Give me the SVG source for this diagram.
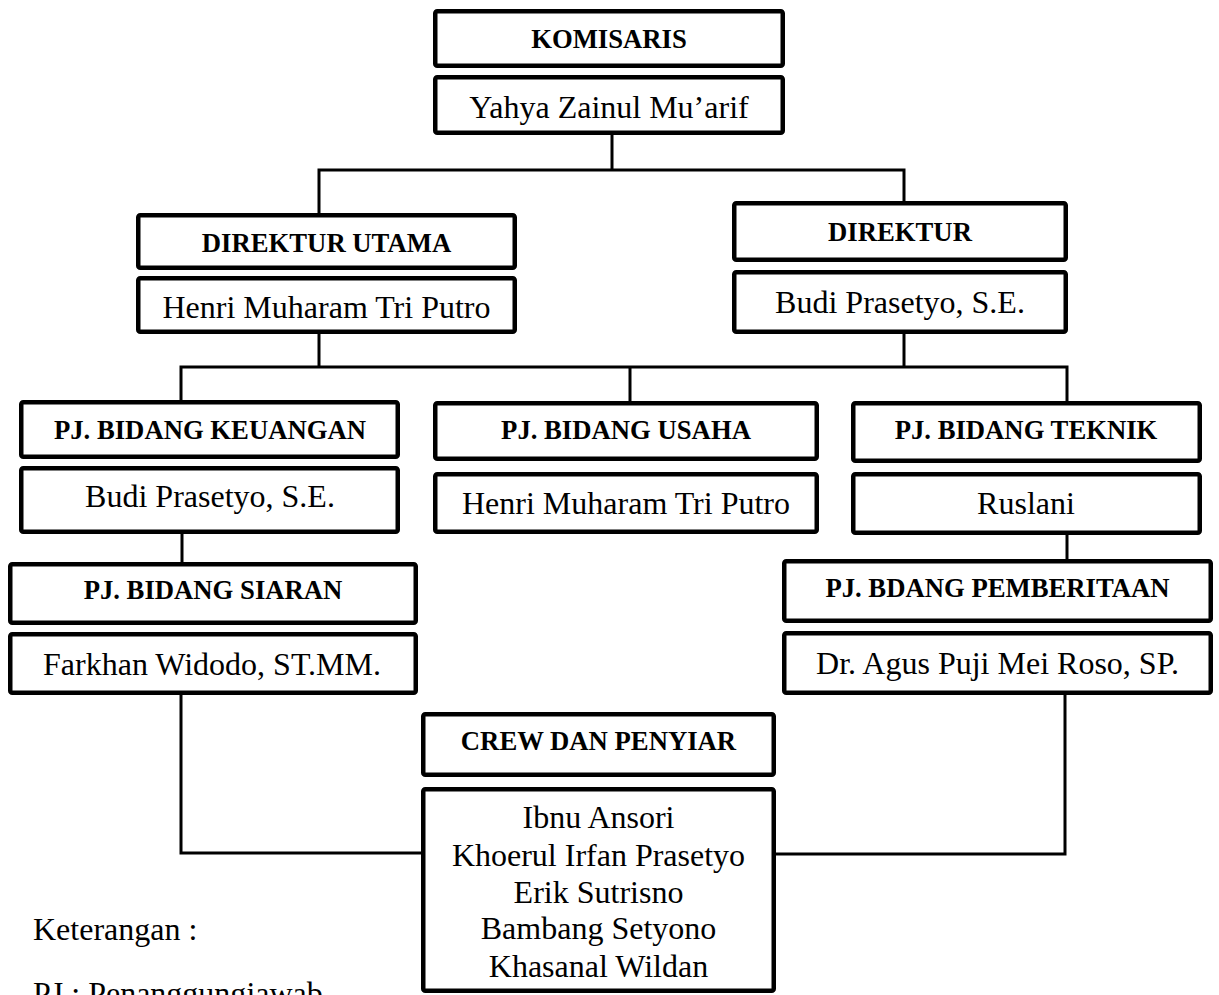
<svg xmlns="http://www.w3.org/2000/svg" width="1219" height="995" viewBox="0 0 1219 995">
<style>
.box{fill:#fff;stroke:#000;stroke-width:4.5;}
.t{font-family:"Liberation Serif","Times New Roman",serif;font-size:32px;fill:#000;text-anchor:middle;}
.b{font-family:"Liberation Serif","Times New Roman",serif;font-size:26.7px;font-weight:bold;fill:#000;text-anchor:middle;}
.l{font-family:"Liberation Serif","Times New Roman",serif;font-size:32px;fill:#000;}
.c{fill:none;stroke:#000;stroke-width:3;stroke-linejoin:miter;}
</style>
<rect width="1219" height="995" fill="#fff"/>
<g id="connectors">
<path class="c" d="M612 135 V170"/>
<path class="c" d="M319 213 V170 H904 V201"/>
<path class="c" d="M319 334 V367"/>
<path class="c" d="M904 334 V367"/>
<path class="c" d="M181 400 V367 H1067 V401"/>
<path class="c" d="M630 367 V401"/>
<path class="c" d="M182 534 V562"/>
<path class="c" d="M1067 535 V559"/>
<path class="c" d="M181 695 V853 H421"/>
<path class="c" d="M1065 695 V854 H776"/>
</g>
<g id="komisaris">
<rect class="box" x="435.25" y="11.25" width="347.5" height="54.5" rx="2"/>
<text class="b" x="609" y="48">KOMISARIS</text>
<rect class="box" x="435.25" y="77.25" width="347.5" height="55.5" rx="2"/>
<text class="t" x="609" y="118">Yahya Zainul Mu’arif</text>
</g>
<g id="direktur-utama">
<rect class="box" x="138.25" y="215.25" width="376.5" height="52.5" rx="2"/>
<text class="b" x="326.5" y="252">DIREKTUR UTAMA</text>
<rect class="box" x="138.25" y="278.25" width="376.5" height="53.5" rx="2"/>
<text class="t" x="326.5" y="318">Henri Muharam Tri Putro</text>
</g>
<g id="direktur">
<rect class="box" x="734.25" y="203.25" width="331.5" height="56.5" rx="2"/>
<text class="b" x="900" y="241">DIREKTUR</text>
<rect class="box" x="734.25" y="272.25" width="331.5" height="59.5" rx="2"/>
<text class="t" x="900" y="313">Budi Prasetyo, S.E.</text>
</g>
<g id="pj-keuangan">
<rect class="box" x="21.25" y="402.25" width="376.5" height="54.5" rx="2"/>
<text class="b" x="210" y="439">PJ. BIDANG KEUANGAN</text>
<rect class="box" x="21.25" y="468.25" width="376.5" height="63.5" rx="2"/>
<text class="t" x="210" y="507">Budi Prasetyo, S.E.</text>
</g>
<g id="pj-usaha">
<rect class="box" x="435.25" y="403.25" width="381.5" height="55.5" rx="2"/>
<text class="b" x="626" y="439">PJ. BIDANG USAHA</text>
<rect class="box" x="435.25" y="474.25" width="381.5" height="57.5" rx="2"/>
<text class="t" x="626" y="514">Henri Muharam Tri Putro</text>
</g>
<g id="pj-teknik">
<rect class="box" x="853.25" y="403.25" width="346.5" height="57.5" rx="2"/>
<text class="b" x="1026" y="439">PJ. BIDANG TEKNIK</text>
<rect class="box" x="853.25" y="474.25" width="346.5" height="58.5" rx="2"/>
<text class="t" x="1026" y="514">Ruslani</text>
</g>
<g id="pj-siaran">
<rect class="box" x="10.25" y="564.25" width="405.5" height="58.5" rx="2"/>
<text class="b" x="213" y="599">PJ. BIDANG SIARAN</text>
<rect class="box" x="10.25" y="634.25" width="405.5" height="58.5" rx="2"/>
<text class="t" x="212" y="675">Farkhan Widodo, ST.MM.</text>
</g>
<g id="pj-pemberitaan">
<rect class="box" x="784.25" y="561.25" width="426.5" height="59.5" rx="2"/>
<text class="b" x="997.5" y="597">PJ. BDANG PEMBERITAAN</text>
<rect class="box" x="784.25" y="633.25" width="426.5" height="59.5" rx="2"/>
<text class="t" x="997.5" y="674">Dr. Agus Puji Mei Roso, SP.</text>
</g>
<g id="crew">
<rect class="box" x="423.25" y="714.25" width="350.5" height="60.5" rx="2"/>
<text class="b" x="598.5" y="750">CREW DAN PENYIAR</text>
<rect class="box" x="423.25" y="789.25" width="350.5" height="201.5" rx="2"/>
<text class="t" x="598.5" y="828">Ibnu Ansori</text>
<text class="t" x="598.5" y="866">Khoerul Irfan Prasetyo</text>
<text class="t" x="598.5" y="903">Erik Sutrisno</text>
<text class="t" x="598.5" y="939">Bambang Setyono</text>
<text class="t" x="598.5" y="977">Khasanal Wildan</text>
</g>
<g id="legend">
<text class="l" x="33" y="940">Keterangan :</text>
<text class="l" x="33" y="1004">PJ : Penanggungjawab</text>
</g>
</svg>
